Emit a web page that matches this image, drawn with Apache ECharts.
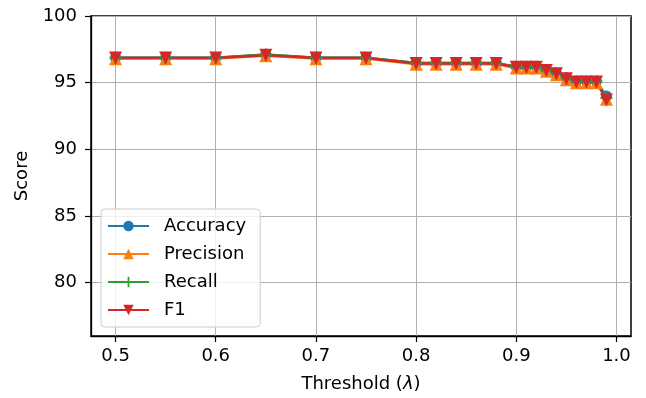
<!DOCTYPE html>
<html>
<head>
<meta charset="utf-8">
<script src="https://cdn.jsdelivr.net/npm/echarts@6/dist/echarts.min.js"></script>
<style>
  html, body {margin: 0; padding: 0; background: #fff;}
  #chart {width: 646px; height: 398px;}
</style>
</head>
<body>
<div id="chart"></div>
<script>
// thresholds on the x axis
const thresholds = [0.5, 0.55, 0.6, 0.65, 0.7, 0.75, 0.8, 0.82, 0.84, 0.86, 0.88,
  0.9, 0.91, 0.92, 0.93, 0.94, 0.95, 0.96, 0.97, 0.98, 0.99];
const accuracy  = [96.87, 96.87, 96.87, 97.1, 96.87, 96.87, 96.47, 96.47, 96.47, 96.47, 96.47,
  96.2, 96.2, 96.2, 95.97, 95.72, 95.35, 95.1, 95.1, 95.1, 94.0];
const precision = [96.8, 96.8, 96.8, 97.02, 96.8, 96.8, 96.38, 96.38, 96.38, 96.38, 96.38,
  96.1, 96.1, 96.1, 95.85, 95.6, 95.22, 95.0, 95.0, 95.0, 93.75];
const recall    = [96.87, 96.87, 96.87, 97.12, 96.87, 96.87, 96.47, 96.47, 96.47, 96.47, 96.47,
  96.2, 96.2, 96.2, 95.95, 95.7, 95.33, 95.08, 95.08, 95.08, 93.85];
const f1        = [96.85, 96.85, 96.85, 97.06, 96.85, 96.85, 96.44, 96.44, 96.44, 96.44, 96.44,
  96.16, 96.16, 96.16, 95.92, 95.66, 95.3, 95.05, 95.05, 95.05, 93.7];
const xTicks = [0.5, 0.6, 0.7, 0.8, 0.9, 1.0];
const yTicks = [80, 85, 90, 95, 100];

const chart = echarts.init(document.getElementById('chart'));
const font = 'DejaVu Sans';
const pair = arr => thresholds.map((t, i) => [t, arr[i]]);
const plus = 'path://M5,0 L7,0 L7,5 L12,5 L12,7 L7,7 L7,12 L5,12 L5,7 L0,7 L0,5 L5,5 Z';
const spine = {show: true, lineStyle: {color: '#000', width: 1.3}};

chart.setOption({
  animation: false,
  textStyle: {fontFamily: font},
  grid: {left: 91, right: 15, top: 16, bottom: 61, show: true, borderColor: '#000', borderWidth: 1.5, backgroundColor: 'transparent'},
  legend: {
    orient: 'vertical',
    left: 101, top: 209,
    padding: [8, 14, 8, 6],
    itemWidth: 41, itemHeight: 13, itemGap: 10,
    backgroundColor: 'rgba(255,255,255,0.8)',
    borderColor: '#ccc', borderWidth: 1, borderRadius: 4,
    textStyle: {fontSize: 18, color: '#000', padding: [0, 0, 0, 10]},
    data: ['Accuracy', 'Precision', 'Recall', 'F1']
  },
  xAxis: {
    type: 'value', min: 0.4755, max: 1.0145,
    name: 'Threshold ({i|λ})', nameLocation: 'middle', nameGap: 39,
    nameTextStyle: {fontSize: 18, color: '#000', rich: {i: {fontStyle: 'italic', fontSize: 18}}},
    axisLine: spine,
    axisTick: {show: true, length: 6, customValues: xTicks, lineStyle: {color: '#000', width: 1.2}},
    axisLabel: {fontSize: 18, color: '#000', margin: 11, customValues: xTicks, formatter: v => v.toFixed(1)},
    splitLine: {show: true, lineStyle: {color: '#b0b0b0', width: 1}}
  },
  yAxis: {
    type: 'value', min: 76, max: 100,
    name: 'Score', nameLocation: 'middle', nameGap: 60,
    nameTextStyle: {fontSize: 18, color: '#000'},
    axisLine: spine,
    axisTick: {show: true, length: 6, customValues: yTicks, lineStyle: {color: '#000', width: 1.2}},
    axisLabel: {fontSize: 18, color: '#000', margin: 14, customValues: yTicks},
    splitLine: {show: true, lineStyle: {color: '#b0b0b0', width: 1}}
  },
  series: [
    {name: 'Accuracy', data: pair(accuracy), color: '#1f77b4', symbol: 'circle', symbolSize: 11},
    {name: 'Precision', data: pair(precision), color: '#ff7f0e', symbol: 'triangle', symbolSize: 13},
    {name: 'Recall', data: pair(recall), color: '#2ca02c', symbol: plus, symbolSize: 12},
    {name: 'F1', data: pair(f1), color: '#d62728', symbol: 'triangle', symbolRotate: 180, symbolSize: 13}
  ].map(s => ({
    ...s,
    type: 'line',
    showSymbol: true,
    lineStyle: {width: 2.4},
    itemStyle: {color: s.color, opacity: 1}
  }))
});
</script>
</body>
</html>
